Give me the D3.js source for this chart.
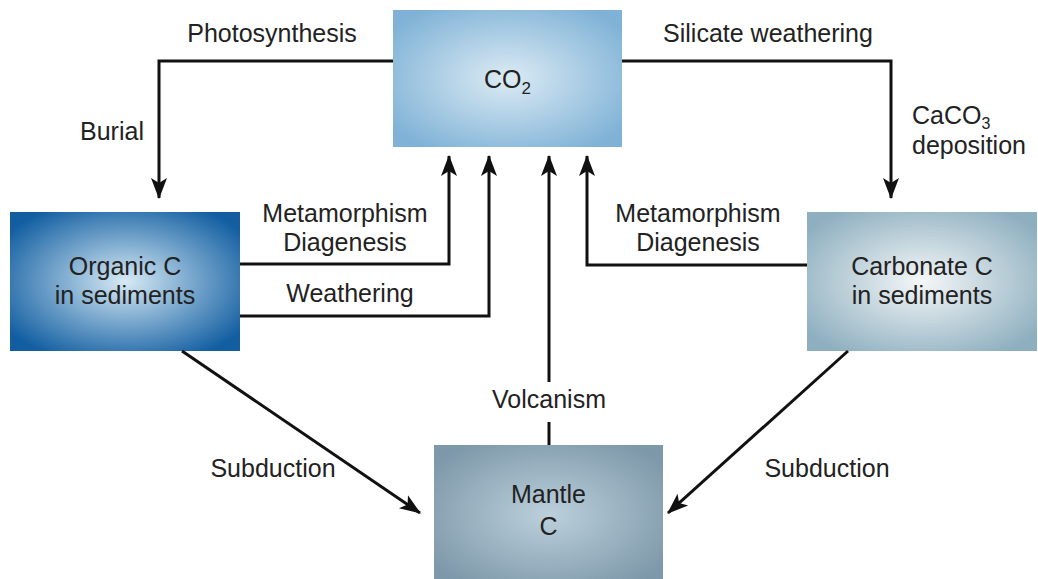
<!DOCTYPE html>
<html lang="en">
<head>
    <meta charset="UTF-8">
    <title>Carbon cycle</title>
    <script src="https://cdn.jsdelivr.net/npm/d3@7"></script>
    <style>
        body{ margin: 0; background: #fff; }
        text{ font-family: "Liberation Sans", Arial, sans-serif; fill: #222; }
    </style>
</head>
<body>
<svg id="fig" width="1038" height="579"></svg>

<script>
    // reservoirs (text lines)
    let reservoirs = ["co2", "organic", "carbonate", "mantle"]
    let reservoirLabels = [["CO\u2082"], ["Organic C", "in sediments"], ["Carbonate C", "in sediments"], ["Mantle", "C"]]
    // fluxes between reservoirs
    let fluxes = ["photo", "silicate", "metaL", "weath", "volc", "metaR", "subL", "subR"]
    let fluxLabels = [["Photosynthesis"], ["Silicate weathering"], ["Metamorphism", "Diagenesis"], ["Weathering"],
        ["Volcanism"], ["Metamorphism", "Diagenesis"], ["Subduction"], ["Subduction"]]

    // layout (pixels)
    const boxes = {
        co2: {x: 393, y: 10, w: 229, h: 137, c0: "#dcebf4", c1: "#7fb2d6"},
        organic: {x: 10, y: 212, w: 230, h: 139, c0: "#d6eaf5", c1: "#125ea1"},
        carbonate: {x: 807, y: 212, w: 230, h: 139, c0: "#f4f7f8", c1: "#8eafbf"},
        mantle: {x: 434, y: 445, w: 229, h: 140, c0: "#bcd0dc", c1: "#7d98a9"}
    }
    const paths = {
        photo: [[393, 61], [159, 61], [159, 198]],
        silicate: [[622, 61], [891, 61], [891, 198]],
        metaL: [[240, 264], [449, 264], [449, 156]],
        weath: [[240, 316], [489, 316], [489, 156]],
        volc: [[549, 445], [549, 156]],
        metaR: [[807, 265], [587, 265], [587, 156]],
        subL: [[182, 351], [420, 513]],
        subR: [[848, 351], [668, 513]]
    }
    const labelPos = {
        photo: [272, 42], silicate: [768, 42], metaL: [345, 222], weath: [350, 302],
        volc: [549, 408], metaR: [698, 222], subL: [273, 477], subR: [827, 477]
    }

    let svg = d3.select("#fig")
    let defs = svg.append("defs")

    defs.append("marker")
        .attr("id", "head")
        .attr("markerUnits", "userSpaceOnUse")
        .attr("viewBox", "-2 -10 26 20")
        .attr("refX", 20).attr("refY", 0)
        .attr("markerWidth", 26).attr("markerHeight", 20)
        .attr("orient", "auto")
        .append("path")
        .attr("d", "M0,-8 L21,0 L0,8 L5,0 Z")
        .attr("fill", "#111")

    reservoirs.forEach((key, i) => {
        let b = boxes[key]
        let g = defs.append("radialGradient")
            .attr("id", "grad-" + key)
            .attr("cx", "50%").attr("cy", "50%").attr("r", "62%")
        g.append("stop").attr("offset", "0%").attr("stop-color", b.c0)
        g.append("stop").attr("offset", "100%").attr("stop-color", b.c1)

        svg.append("rect")
            .attr("x", b.x).attr("y", b.y)
            .attr("width", b.w).attr("height", b.h)
            .attr("fill", "url(#grad-" + key + ")")
    })

    let line = d3.line()
    fluxes.forEach(key => {
        let pts = paths[key]
        if (key === "volc") {
            // gap for the label
            svg.append("path").attr("d", line([[549, 445], [549, 422]]))
                .attr("stroke", "#111").attr("stroke-width", 3).attr("fill", "none")
            pts = [[549, 382], [549, 156]]
        }
        svg.append("path")
            .attr("d", line(pts))
            .attr("stroke", "#111")
            .attr("stroke-width", 3)
            .attr("fill", "none")
            .attr("marker-end", "url(#head)")
    })

    const fs = 25
    // box labels
    reservoirs.forEach((key, i) => {
        let b = boxes[key]
        let lines = reservoirLabels[i]
        let cy = b.y + b.h / 2
        let t = svg.append("text")
            .attr("text-anchor", "middle")
            .attr("font-size", fs)
        lines.forEach((s, j) => {
            let y = cy + 8 + (j - (lines.length - 1) / 2) * 29
            if (key === "mantle") y = cy - 12 + j * 32
            if (key === "co2") {
                t.append("tspan").attr("x", b.x + b.w / 2).attr("y", 88).text("CO")
                    .append("tspan").attr("font-size", 17).attr("dy", 6).text("2")
            } else {
                t.append("tspan").attr("x", b.x + b.w / 2).attr("y", y).text(s)
            }
        })
    })

    // flux labels
    fluxes.forEach((key, i) => {
        let [x, y] = labelPos[key]
        let t = svg.append("text")
            .attr("text-anchor", "middle")
            .attr("font-size", fs)
        fluxLabels[i].forEach((s, j) => {
            t.append("tspan").attr("x", x).attr("y", y + j * 29).text(s)
        })
    })

    // extra labels on the burial / deposition legs
    svg.append("text").attr("x", 112).attr("y", 140)
        .attr("text-anchor", "middle").attr("font-size", fs).text("Burial")
    let dep = svg.append("text").attr("font-size", fs)
    dep.append("tspan").attr("x", 912).attr("y", 124).text("CaCO")
        .append("tspan").attr("font-size", 16).attr("dy", 5).text("3")
    svg.append("text").attr("font-size", fs)
        .attr("x", 912).attr("y", 154).text("deposition")
</script>
</body>
</html>
